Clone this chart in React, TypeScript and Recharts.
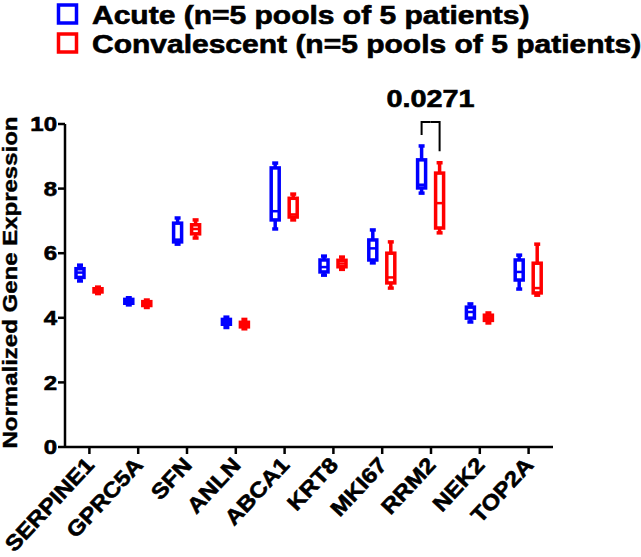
import React from 'react';
import { ComposedChart, Bar, XAxis, YAxis, Legend, Label } from 'recharts';

// ---------- data ----------
const genes = ['SERPINE1', 'GPRC5A', 'SFN', 'ANLN', 'ABCA1', 'KRT8', 'MKI67', 'RRM2', 'NEK2', 'TOP2A'];

const acuteMin = [5.14, 4.4, 6.28, 3.7, 6.75, 5.32, 5.7, 7.86, 3.87, 4.89];
const acuteQ1 = [5.25, 4.45, 6.35, 3.8, 7.03, 5.42, 5.79, 8.02, 3.99, 5.17];
const acuteMedian = [5.4, 4.5, 6.42, 3.87, 7.3, 5.57, 6.15, 8.12, 4.18, 5.42];
const acuteQ3 = [5.52, 4.57, 6.93, 3.95, 8.64, 5.79, 6.41, 8.89, 4.33, 5.79];
const acuteMax = [5.63, 4.62, 7.09, 4.02, 8.79, 5.91, 6.72, 9.32, 4.43, 5.94];

const convMin = [4.75, 4.32, 6.47, 3.66, 7.03, 5.5, 4.92, 6.63, 3.84, 4.7];
const convQ1 = [4.8, 4.38, 6.6, 3.72, 7.12, 5.58, 5.08, 6.78, 3.92, 4.77];
const convMedian = [4.85, 4.43, 6.75, 3.78, 7.2, 5.68, 5.25, 7.55, 4.0, 4.92];
const convQ3 = [4.9, 4.5, 6.88, 3.86, 7.7, 5.78, 6.0, 8.48, 4.08, 5.69];
const convMax = [4.95, 4.55, 7.03, 3.95, 7.83, 5.88, 6.35, 8.8, 4.15, 6.28];

const seriesNames = ['Acute (n=5 pools of 5 patients)', 'Convalescent (n=5 pools of 5 patients)'];
const seriesColors = ['#0000FF', '#FF0000'];
const yTicks = [0, 2, 4, 6, 8, 10];
const yLabel = 'Normalized Gene Expression';

// significance annotation (values in data units)
const pGene = 'RRM2';
const pText = '0.0271';
const bracketTop = 10.06;
const bracketLeftEnd = 9.66;
const bracketRightEnd = 9.16;
const pTextBaseline = 10.53;

// ---------- style ----------
const FONT = '"Liberation Sans", Arial, Helvetica, sans-serif';
const WIDE = 1.2;
const BAR_SIZE = 8;
const BAR_GAP = 10;
const HEAVY = 0.6;

const data = genes.map((g, i) => ({
  gene: g,
  acute: [acuteMin[i], acuteMax[i]],
  conv: [convMin[i], convMax[i]],
  acuteStats: { min: acuteMin[i], q1: acuteQ1[i], med: acuteMedian[i], q3: acuteQ3[i], max: acuteMax[i] },
  convStats: { min: convMin[i], q1: convQ1[i], med: convMedian[i], q3: convQ3[i], max: convMax[i] },
}));

const makeBox = (color: string, key: 'acuteStats' | 'convStats', side: 'left' | 'right') => (props: any) => {
  const { x, y, width, height, payload } = props;
  if (x == null || y == null || !payload) return <g />;
  const s = payload[key];
  const top = Math.min(y, y + height);
  const h = Math.abs(height);
  const px = (v: number) => top + ((s.max - v) / (s.max - s.min)) * h;
  const cx = x + width / 2;
  const sw = 3.5;
  const els: any[] = [];
  els.push(<line key="wt" x1={cx} x2={cx} y1={px(s.max)} y2={px(s.q3)} stroke={color} strokeWidth={sw} />);
  els.push(<line key="wb" x1={cx} x2={cx} y1={px(s.q1)} y2={px(s.min)} stroke={color} strokeWidth={sw} />);
  els.push(<line key="ct" x1={cx - 3} x2={cx + 3} y1={px(s.max)} y2={px(s.max)} stroke={color} strokeWidth={sw} />);
  els.push(<line key="cb" x1={cx - 3} x2={cx + 3} y1={px(s.min)} y2={px(s.min)} stroke={color} strokeWidth={sw} />);
  els.push(
    <rect key="box" x={x} y={px(s.q3)} width={width} height={Math.max(0.5, px(s.q1) - px(s.q3))} fill="#FFFFFF" stroke={color} strokeWidth={sw} />
  );
  els.push(<line key="md" x1={x} x2={x + width} y1={px(s.med)} y2={px(s.med)} stroke={color} strokeWidth={2.5} />);

  if (payload.gene === pGene) {
    const half = (BAR_SIZE + BAR_GAP) / 2;
    const yt = px(bracketTop);
    if (side === 'left') {
      els.push(
        <path key="br" d={`M${cx},${px(bracketLeftEnd)} L${cx},${yt} L${cx + half},${yt}`} fill="none" stroke="#000" strokeWidth={2} />
      );
      els.push(
        <text
          key="pt"
          transform={`translate(${cx + half},${px(pTextBaseline)}) scale(${WIDE},1)`}
          textAnchor="middle"
          fontFamily={FONT}
          fontWeight="bold"
          fontSize={24}
          fill="#000"
          stroke="#000"
          strokeWidth={HEAVY}
        >
          {pText}
        </text>
      );
    } else {
      els.push(
        <path key="br" d={`M${cx - half},${yt} L${cx},${yt} L${cx},${px(bracketRightEnd)}`} fill="none" stroke="#000" strokeWidth={2} />
      );
    }
  }
  return <g>{els}</g>;
};

const GeneTick = (props: any) => {
  const { x, y, payload } = props;
  return (
    <g transform={`translate(${x + 6},${y + 10})`}>
      <text
        transform={`rotate(-47) scale(1.12,1)`}
        textAnchor="end"
        fontFamily={FONT}
        fontWeight="bold"
        fontSize={21.5}
        fill="#000"
        stroke="#000"
        strokeWidth={HEAVY}
      >
        {payload.value}
      </text>
    </g>
  );
};

const ValueTick = (props: any) => {
  const { x, y, payload } = props;
  return (
    <text
      transform={`translate(${x},${y}) scale(${WIDE},1)`}
      textAnchor="end"
      dy="0.36em"
      fontFamily={FONT}
      fontWeight="bold"
      fontSize={20}
      fill="#000"
      stroke="#000"
      strokeWidth={HEAVY}
    >
      {payload.value}
    </text>
  );
};

const YTitle = (props: any) => {
  const vb = props.viewBox || { x: 0, y: 124, width: 65, height: 323 };
  const cy = vb.y + vb.height / 2 - 3;
  return (
    <text
      transform={`translate(17,${cy}) rotate(-90) scale(${WIDE},1)`}
      textAnchor="middle"
      fontFamily={FONT}
      fontWeight="bold"
      fontSize={20}
      fill="#000"
      stroke="#000"
      strokeWidth={0.4}
    >
      {yLabel}
    </text>
  );
};

const LegendContent = () => (
  <svg width={641} height={60} style={{ display: 'block' }}>
    {seriesNames.map((n, i) => (
      <g key={n}>
        <rect x={58.5} y={5 + i * 29} width={18} height={18} fill="#FFFFFF" stroke={seriesColors[i]} strokeWidth={3.5} />
        <text
          transform={`translate(92,${24 + i * 29}) scale(${WIDE},1)`}
          fontFamily={FONT}
          fontWeight="bold"
          fontSize={25}
          fill="#000"
          stroke="#000"
          strokeWidth={HEAVY}
        >
          {n}
        </text>
      </g>
    ))}
  </svg>
);

export default function App() {
  return (
    <div style={{ position: 'absolute', left: 0, top: 0, width: 641, height: 557, background: '#fff' }}>
      <ComposedChart
        width={641}
        height={557}
        data={data}
        margin={{ top: 64, right: 88, bottom: 0, left: 0 }}
        barGap={BAR_GAP}
        barSize={BAR_SIZE}
      >
        <Legend
          verticalAlign="top"
          align="left"
          height={60}
          content={LegendContent}
          wrapperStyle={{ top: 0, left: 0, width: 641, height: 60 }}
        />
        <XAxis
          dataKey="gene"
          interval={0}
          height={110}
          tickSize={7}
          tickMargin={2}
          axisLine={{ stroke: '#000', strokeWidth: 2.5 }}
          tickLine={{ stroke: '#000', strokeWidth: 2.5 }}
          tick={GeneTick}
        />
        <YAxis
          width={65}
          domain={[0, 10]}
          ticks={yTicks}
          tickSize={7}
          tickMargin={1}
          axisLine={{ stroke: '#000', strokeWidth: 2.5 }}
          tickLine={{ stroke: '#000', strokeWidth: 2.5 }}
          tick={ValueTick}
          allowDataOverflow={false}
        >
          <Label content={YTitle} />
        </YAxis>
        <Bar dataKey="acute" name={seriesNames[0]} fill={seriesColors[0]} shape={makeBox(seriesColors[0], 'acuteStats', 'left')} isAnimationActive={false} />
        <Bar dataKey="conv" name={seriesNames[1]} fill={seriesColors[1]} shape={makeBox(seriesColors[1], 'convStats', 'right')} isAnimationActive={false} />
      </ComposedChart>
    </div>
  );
}
